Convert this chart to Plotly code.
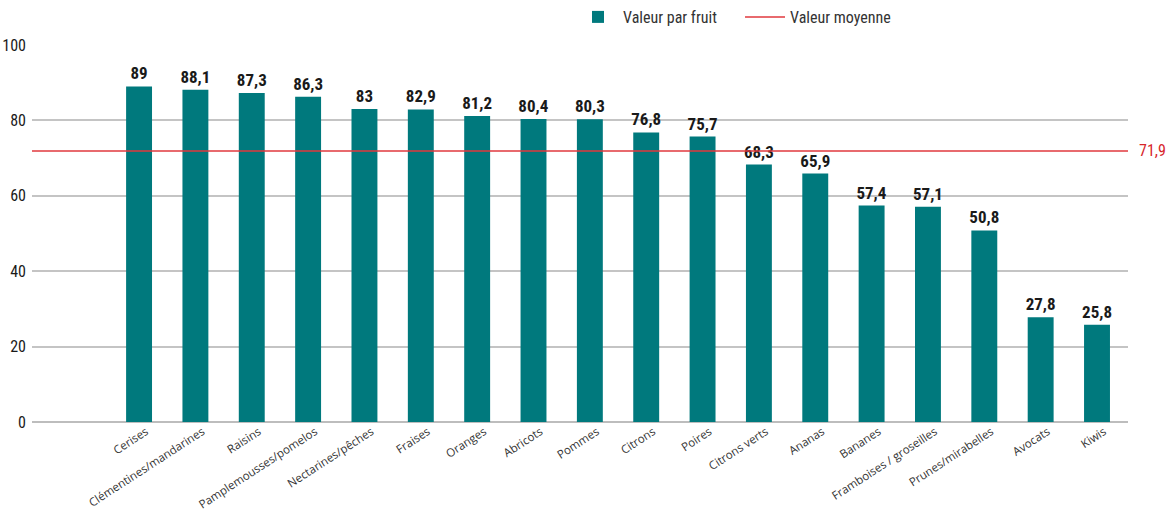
import plotly.graph_objects as go

categories = ["Cerises", "Clémentines/mandarines", "Raisins", "Pamplemousses/pomelos",
              "Nectarines/pêches", "Fraises", "Oranges", "Abricots", "Pommes", "Citrons",
              "Poires", "Citrons verts", "Ananas", "Bananes", "Framboises / groseilles",
              "Prunes/mirabelles", "Avocats", "Kiwis"]
values = [89, 88.1, 87.3, 86.3, 83, 82.9, 81.2, 80.4, 80.3, 76.8, 75.7, 68.3, 65.9,
          57.4, 57.1, 50.8, 27.8, 25.8]
mean_value = 71.9
y_ticks = [0, 20, 40, 60, 80, 100]


def fr(v):
    return ("%g" % v).replace(".", ",")


TEAL = "#00797D"
RED = "#E0393E"
NUM_FONT = "Roboto Condensed, DejaVu Sans Condensed, sans-serif"
TXT_FONT = "Open Sans, sans-serif"

fig = go.Figure()
fig.add_trace(go.Bar(
    x=categories, y=values, name="Valeur par fruit",
    marker=dict(color=TEAL, line=dict(width=0)),
    text=[fr(v) for v in values], textposition="outside", constraintext="none",
    textfont=dict(family=NUM_FONT, size=17, color="#1a1a1a", weight="bold"),
    cliponaxis=False, hoverinfo="x+y",
))

fig.add_shape(type="line", xref="paper", x0=0, x1=1, yref="y", y0=mean_value, y1=mean_value,
              line=dict(color=RED, width=1.5), showlegend=True, name="Valeur moyenne", layer="above")

fig.add_annotation(xref="paper", x=1, yref="y", y=mean_value, text=fr(mean_value),
                   showarrow=False, xanchor="right", xshift=40,
                   font=dict(family=NUM_FONT, size=16, color="#D7262B"))

fig.update_layout(
    width=1168, height=511,
    margin=dict(l=32, r=40, t=45, b=89),
    paper_bgcolor="white", plot_bgcolor="white",
    bargap=0.54,
    showlegend=True,
    legend=dict(orientation="h", xref="container", x=0.4906, xanchor="left",
                yref="container", y=1.0, yanchor="top",
                font=dict(family=NUM_FONT, size=16, color="#333"),
                itemwidth=40, entrywidth=112, entrywidthmode="pixels",
                bgcolor="rgba(0,0,0,0)"),
    xaxis=dict(range=[-1.9, 17.55], tickangle=-33, showgrid=False, ticks="",
               showline=False, zeroline=False, automargin=False, ticklabelshift=7,
               tickfont=dict(family=TXT_FONT, size=11.5, color="#333")),
    yaxis=dict(range=[0, 100], tickvals=y_ticks, ticktext=[str(t) for t in y_ticks],
               showgrid=True, gridcolor="#C4C4C4", gridwidth=1.5,
               zeroline=True, zerolinecolor="#BDBDBD", zerolinewidth=2,
               showline=False, ticks="", ticklabelstandoff=5, automargin=False,
               tickfont=dict(family=NUM_FONT, size=16, color="#1a1a1a")),
)

fig.write_html("out.html", config={"displayModeBar": False},
               post_script="document.body.style.margin='0px';")
